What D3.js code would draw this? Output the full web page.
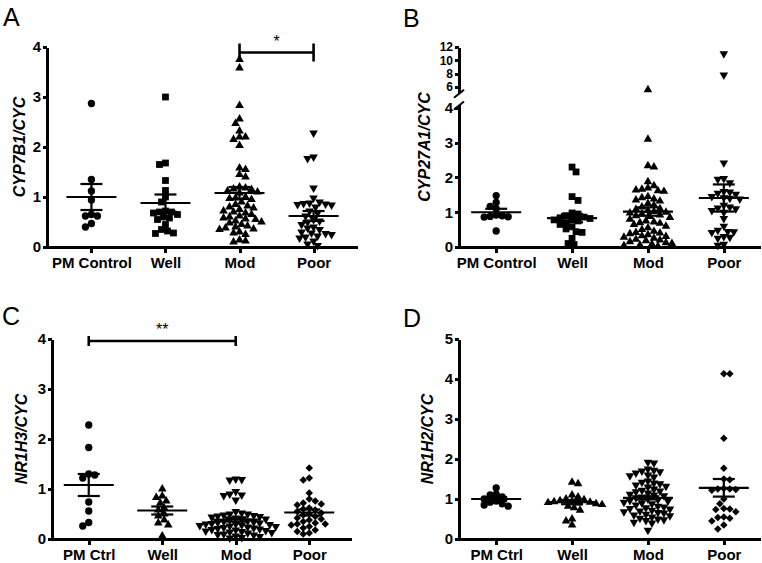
<!DOCTYPE html>
<html>
<head>
<meta charset="utf-8">
<script src="https://cdn.jsdelivr.net/npm/d3@7"></script>
<style>
body { margin: 0; background: #fff; }
text { font-family: "Liberation Sans", Arial, sans-serif; fill: #000; }
</style>
</head>
<body>
<svg id="fig"></svg>
<script>
// ---- data ----
const groupsAB = ["PM Control", "Well", "Mod", "Poor"];
const groupsCD = ["PM Ctrl", "Well", "Mod", "Poor"];

// A: CYP7B1/CYC
const aPM = [2.87, 1.35, 1.12, 0.94, 0.65, 0.62, 0.62, 0.47, 0.40];
const aWell = [3.0, 1.68, 1.65, 1.33, 1.13, 1.0, 0.9, 0.72, 0.7, 0.7, 0.68, 0.65, 0.6, 0.58, 0.55, 0.45, 0.35, 0.32, 0.28, 0.27];
const aMod = [3.75, 3.58, 2.83, 2.56, 2.47, 2.32, 2.2, 2.2, 2.15, 2.03, 1.58, 1.55, 1.45, 1.4,
  1.2, 1.18, 1.16, 1.15, 1.12, 1.1, 1.08, 1.0, 0.98, 0.97, 0.95, 0.9, 0.85, 0.82, 0.8, 0.78,
  0.75, 0.72, 0.7, 0.68, 0.65, 0.62, 0.6, 0.58, 0.56, 0.55, 0.52, 0.5, 0.48, 0.45, 0.42, 0.4,
  0.38, 0.36, 0.35, 0.3, 0.28, 0.25, 0.14, 0.12, 0.1];
const aPoor = [2.28, 1.8, 1.77, 1.18, 0.98, 0.9, 0.88, 0.87, 0.86, 0.85, 0.84, 0.8, 0.72, 0.68, 0.62,
  0.55, 0.52, 0.5, 0.45, 0.4, 0.38, 0.35, 0.3, 0.28, 0.27, 0.25, 0.22, 0.2, 0.18, 0.12, 0.06, 0.03];
const aMeans = [1.0, 0.88, 1.08, 0.62];
const aSems = [0.26, 0.17, 0.12, 0.1];

// B: CYP27A1/CYC
const bPM = [1.48, 1.28, 1.17, 1.1, 0.92, 0.9, 0.88, 0.87, 0.86, 0.46];
const bWell = [2.3, 2.16, 1.45, 1.34, 0.98, 0.95, 0.9, 0.86, 0.84, 0.82, 0.8, 0.78, 0.75, 0.7, 0.65,
  0.58, 0.52, 0.44, 0.42, 0.25, 0.1, 0.07];
const bMod = [5.6, 3.1, 2.34, 2.3, 1.88, 1.76, 1.7, 1.66, 1.64, 1.62, 1.6, 1.45, 1.42, 1.38, 1.35,
  1.32, 1.25, 1.2, 1.15, 1.1, 1.08, 1.05, 1.02, 1.0, 0.98, 0.95, 0.92, 0.9, 0.88, 0.85, 0.8, 0.75,
  0.72, 0.7, 0.68, 0.65, 0.6, 0.55, 0.5, 0.45, 0.42, 0.4, 0.38, 0.35, 0.32, 0.3, 0.28, 0.25, 0.22,
  0.2, 0.18, 0.15, 0.12, 0.1, 0.08, 0.06, 0.04, 0.02];
const bPoor = [11.0, 7.8, 2.42, 1.97, 1.95, 1.85, 1.6, 1.58, 1.55, 1.52, 1.45, 1.42, 1.4, 1.38, 1.2,
  1.15, 1.12, 1.1, 1.05, 1.0, 0.82, 0.6, 0.48, 0.45, 0.44, 0.42, 0.3, 0.28, 0.25, 0.08, 0.05];
const bMeans = [1.0, 0.83, 1.02, 1.41];
const bSems = [0.1, 0.12, 0.12, 0.39];

// C: NR1H3/CYC
const cPM = [2.28, 1.83, 1.3, 1.28, 1.22, 0.74, 0.56, 0.33, 0.26];
const cWell = [1.0, 0.86, 0.83, 0.76, 0.72, 0.62, 0.58, 0.5, 0.46, 0.38, 0.32, 0.28, 0.06];
const cMod = [1.2, 1.19, 1.18, 0.95, 0.9, 0.88, 0.87, 0.78, 0.55, 0.52, 0.5, 0.5, 0.48, 0.47, 0.46,
  0.45, 0.44, 0.42, 0.4, 0.4, 0.38, 0.36, 0.35, 0.34, 0.33, 0.32, 0.31, 0.3, 0.3, 0.29, 0.28, 0.27,
  0.26, 0.25, 0.24, 0.23, 0.22, 0.21, 0.2, 0.19, 0.18, 0.17, 0.16, 0.15, 0.14, 0.13, 0.12, 0.1,
  0.09, 0.08, 0.06, 0.05, 0.03, 0.02];
const cPoor = [1.42, 1.22, 1.18, 0.92, 0.8, 0.76, 0.72, 0.7, 0.68, 0.62, 0.6, 0.58, 0.55, 0.52, 0.5,
  0.48, 0.45, 0.42, 0.4, 0.38, 0.35, 0.32, 0.3, 0.3, 0.28, 0.25, 0.22, 0.18, 0.15, 0.12, 0.1];
const cMeans = [1.08, 0.57, 0.39, 0.53];
const cSems = [0.22, 0.08, 0.04, 0.06];

// D: NR1H2/CYC
const dPM = [1.28, 1.12, 1.1, 1.05, 1.0, 0.95, 0.92, 0.88, 0.85, 0.82];
const dWell = [1.42, 1.38, 1.1, 1.05, 1.0, 0.98, 0.96, 0.95, 0.93, 0.92, 0.91, 0.9, 0.88, 0.86,
  0.82, 0.78, 0.72, 0.5, 0.45, 0.35];
const dMod = [1.92, 1.9, 1.75, 1.72, 1.7, 1.68, 1.65, 1.6, 1.58, 1.55, 1.45, 1.42, 1.4, 1.38, 1.35,
  1.32, 1.3, 1.25, 1.22, 1.2, 1.18, 1.15, 1.12, 1.1, 1.08, 1.05, 1.03, 1.0, 0.98, 0.96, 0.95, 0.92,
  0.9, 0.88, 0.85, 0.82, 0.8, 0.78, 0.76, 0.75, 0.72, 0.7, 0.68, 0.66, 0.65, 0.62, 0.6, 0.58, 0.55,
  0.52, 0.5, 0.48, 0.46, 0.42, 0.4, 0.22];
const dPoor = [4.13, 4.13, 2.52, 1.77, 1.5, 1.48, 1.26, 1.25, 1.25, 1.24, 1.22, 1.0, 0.88, 0.76,
  0.75, 0.74, 0.68, 0.55, 0.54, 0.52, 0.45, 0.35, 0.25];
const dMeans = [1.0, 0.92, 1.03, 1.28];
const dSems = [0.05, 0.05, 0.04, 0.22];

const sigA = { from: "Mod", to: "Poor", y: 3.89, label: "*" };
const sigC = { from: "PM Ctrl", to: "Mod", y: 3.96, label: "**" };

// ---- layout ----
const panels = [
  { letter: "A", title: "CYP7B1/CYC", groups: groupsAB, values: [aPM, aWell, aMod, aPoor],
    means: aMeans, sems: aSems, shapes: ["circle", "square", "up", "down"],
    domain: [0, 4], ticks: [0, 1, 2, 3, 4], sig: sigA, capHalf: 9,
    left: 47, right: 358, ptRange: [47, 358], pad: 0.6, top: 47, bottom: 247,
    titleX: 19, letterX: 3, letterY: 26 },
  { letter: "B", title: "CYP27A1/CYC", groups: groupsAB, values: [bPM, bWell, bMod, bPoor],
    means: bMeans, sems: bSems, shapes: ["circle", "square", "up", "down"],
    broken: { low: [0, 4.1], high: [5.15, 12], lowTop: 104.5, highBottom: 92.7,
              lowTicks: [0, 1, 2, 3, 4], highTicks: [6, 8, 10, 12] },
    left: 459, right: 761, ptRange: [459, 761], pad: 0.49, top: 47, bottom: 247,
    titleX: 424, letterX: 403, letterY: 27 },
  { letter: "C", title: "NR1H3/CYC", groups: groupsCD, values: [cPM, cWell, cMod, cPoor],
    means: cMeans, sems: cSems, shapes: ["circle", "up", "down", "diamond"],
    domain: [0, 4], ticks: [0, 1, 2, 3, 4], sig: sigC, capHalf: 5,
    left: 52, right: 352, ptRange: [52, 346], pad: 0.5, top: 339, bottom: 539,
    titleX: 21, letterX: 2, letterY: 325 },
  { letter: "D", title: "NR1H2/CYC", groups: groupsCD, values: [dPM, dWell, dMod, dPoor],
    means: dMeans, sems: dSems, shapes: ["circle", "up", "down", "diamond"],
    domain: [0, 5], ticks: [0, 1, 2, 3, 4, 5],
    left: 459, right: 761, ptRange: [459, 761], pad: 0.49, top: 339, bottom: 539,
    titleX: 427, letterX: 403, letterY: 327 }
];

const svg = d3.select("#fig").attr("width", 762).attr("height", 563);

const symbols = {
  circle: { path: d3.symbol(d3.symbolCircle, 42)(), rot: 0 },
  square: { path: d3.symbol(d3.symbolSquare, 46)(), rot: 0 },
  up: { path: d3.symbol(d3.symbolTriangle, 32)(), rot: 0 },
  down: { path: d3.symbol(d3.symbolTriangle, 32)(), rot: 180 },
  diamond: { path: d3.symbol(d3.symbolSquare, 28)(), rot: 45 }
};

// simple beeswarm: place each point as close to the centre as it fits
function swarm(vals, yf, cx, d) {
  const pts = vals.map(v => ({ v, y: yf(v) })).sort((a, b) => a.y - b.y);
  const placed = [];
  const step = d / 3;
  pts.forEach((pt, i) => {
    const sgn = i % 2 ? 1 : -1;
    for (let k = 0; k < 400; k++) {
      const x = cx + Math.ceil(k / 2) * step * (k % 2 ? sgn : -sgn);
      if (placed.every(q => (q.x - x) ** 2 + (q.y - pt.y) ** 2 >= d * d)) { pt.x = x; break; }
    }
    placed.push(pt);
  });
  return placed;
}

const fmt = d3.format("d");
const AXW = 3;

function styleAxis(sel, size) {
  sel.attr("fill", null);
  sel.selectAll("path, line")
    .attr("stroke", "#000").attr("stroke-width", AXW)
    .attr("shape-rendering", "crispEdges");
  sel.selectAll("text")
    .style("font-size", size + "px").style("font-weight", "bold")
    .style("font-family", "'Liberation Sans', Arial, sans-serif").attr("fill", "#000");
}

function drawPanel(p) {
  const g = svg.append("g");
  const x = d3.scalePoint().domain(p.groups).range(p.ptRange).padding(p.pad);

  let y;
  if (p.broken) {
    const b = p.broken;
    const yLow = d3.scaleLinear().domain(b.low).range([p.bottom, b.lowTop]);
    const yHigh = d3.scaleLinear().domain(b.high).range([b.highBottom, p.top]);
    y = v => (v > b.low[1] ? yHigh(v) : yLow(v));
    [[yLow, b.lowTicks, 15], [yHigh, b.highTicks, 12]].forEach(([sc, tv, fs]) => {
      g.append("g")
        .attr("transform", `translate(${p.left},0)`)
        .call(d3.axisLeft(sc).tickValues(tv).tickFormat(fmt).tickSize(4).tickSizeOuter(0).tickPadding(2))
        .call(styleAxis, fs);
    });
    // break marks
    [b.lowTop + 1, b.highBottom + 1].forEach(yy => {
      g.append("line")
        .attr("x1", p.left - 5).attr("y1", yy + 4)
        .attr("x2", p.left + 5).attr("y2", yy - 4)
        .attr("stroke", "#000").attr("stroke-width", 2);
    });
  } else {
    const sc = d3.scaleLinear().domain(p.domain).range([p.bottom, p.top]);
    y = sc;
    g.append("g")
      .attr("transform", `translate(${p.left},0)`)
      .call(d3.axisLeft(sc).tickValues(p.ticks).tickFormat(fmt).tickSize(4).tickSizeOuter(0).tickPadding(2))
      .call(styleAxis, 15);
  }

  // x axis
  const xa = g.append("g")
    .attr("transform", `translate(0,${p.bottom})`)
    .call(d3.axisBottom(x).tickSize(6).tickPadding(4))
    .call(styleAxis, 15);
  xa.select(".domain").remove();
  g.append("line")
    .attr("x1", p.left - 1).attr("x2", p.right)
    .attr("y1", p.bottom).attr("y2", p.bottom)
    .attr("stroke", "#000").attr("stroke-width", AXW)
    .attr("shape-rendering", "crispEdges");

  // points
  p.groups.forEach((grp, i) => {
    const pts = swarm(p.values[i], y, x(grp), 6);
    const s = symbols[p.shapes[i]];
    g.append("g").selectAll("path")
      .data(pts)
      .join("path")
      .attr("d", s.path)
      .attr("transform", d => `translate(${d.x},${d.y}) rotate(${s.rot})`)
      .attr("fill", "#000");
  });

  // mean and SEM
  p.groups.forEach((grp, i) => {
    const cx = x(grp), m = p.means[i], e = p.sems[i];
    const lines = [
      [cx - 25, y(m), cx + 25, y(m)],
      [cx, y(m - e), cx, y(m + e)],
      [cx - 11, y(m + e), cx + 11, y(m + e)],
      [cx - 11, y(m - e), cx + 11, y(m - e)]
    ];
    g.append("g").selectAll("line")
      .data(lines)
      .join("line")
      .attr("x1", d => d[0]).attr("y1", d => d[1])
      .attr("x2", d => d[2]).attr("y2", d => d[3])
      .attr("stroke", "#000").attr("stroke-width", 2.2);
  });

  // significance bar
  if (p.sig) {
    const x1 = x(p.sig.from), x2 = x(p.sig.to), yy = y(p.sig.y);
    const bar = g.append("g");
    bar.append("line").attr("x1", x1).attr("x2", x2).attr("y1", yy).attr("y2", yy);
    [x1, x2].forEach(xx => bar.append("line")
      .attr("x1", xx).attr("x2", xx)
      .attr("y1", yy - p.capHalf).attr("y2", yy + p.capHalf));
    bar.selectAll("line").attr("stroke", "#000").attr("stroke-width", 2.6);
    g.append("text")
      .attr("x", (x1 + x2) / 2).attr("y", yy - 6)
      .attr("text-anchor", "middle")
      .style("font-size", "16px")
      .text(p.sig.label);
  }

  // y title
  g.append("text")
    .attr("transform", `translate(${p.titleX},${(p.top + p.bottom) / 2}) rotate(-90)`)
    .attr("text-anchor", "middle")
    .attr("dominant-baseline", "central")
    .style("font-size", "16px").style("font-weight", "bold").style("font-style", "italic")
    .text(p.title);

  // panel letter
  g.append("text")
    .attr("x", p.letterX).attr("y", p.letterY)
    .style("font-size", "25px")
    .text(p.letter);
}

panels.forEach(drawPanel);
</script>
</body>
</html>
